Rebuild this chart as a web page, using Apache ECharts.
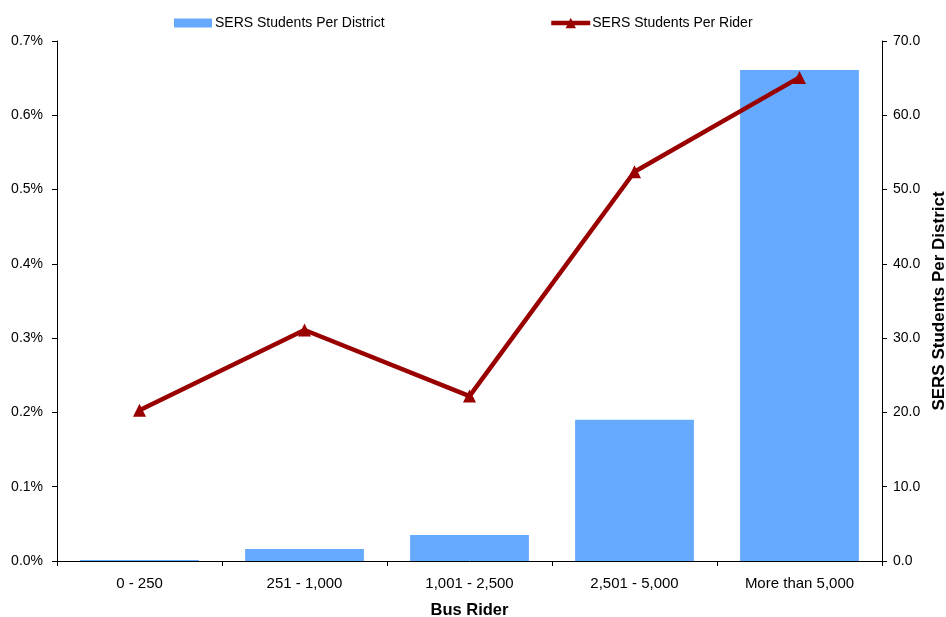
<!DOCTYPE html>
<html>
<head>
<meta charset="utf-8">
<script src="https://cdn.jsdelivr.net/npm/echarts@6/dist/echarts.min.js"></script>
<style>
html,body{margin:0;padding:0;background:#fff;}
#chart{width:946px;height:617px;}
</style>
</head>
<body>
<div id="chart"></div>
<script>
var categories = ['0 - 250', '251 - 1,000', '1,001 - 2,500', '2,501 - 5,000', 'More than 5,000'];
var studentsPerDistrict = [0.15, 1.6, 3.5, 19.0, 66.1];
var studentsPerRiderPct = [0.203, 0.311, 0.222, 0.524, 0.651];
var leftTicks = ['0.0%', '0.1%', '0.2%', '0.3%', '0.4%', '0.5%', '0.6%', '0.7%'];
var rightTicks = ['0.0', '10.0', '20.0', '30.0', '40.0', '50.0', '60.0', '70.0'];

var FONT = '"Liberation Sans", Arial, sans-serif';
var chart = echarts.init(document.getElementById('chart'), null, {renderer: 'canvas'});
chart.setOption({
  backgroundColor: '#ffffff',
  animation: false,
  textStyle: {fontFamily: FONT, color: '#000'},
  legend: [
    {
      data: [{name: 'SERS Students Per District', icon: 'rect'}],
      left: 169, top: 11,
      itemWidth: 38, itemHeight: 9, itemGap: 4,
      textStyle: {fontFamily: FONT, fontSize: 14, color: '#000', padding: [0, 0, 0, -2]}
    },
    {
      data: ['SERS Students Per Rider'],
      left: 544, top: 11,
      itemWidth: 39, itemHeight: 13, itemGap: 4,
      lineStyle: {width: 4.5},
      textStyle: {fontFamily: FONT, fontSize: 14, color: '#000', padding: [0, 0, 0, -3]}
    }
  ],
  grid: {left: 57, right: 64, top: 41, bottom: 56, containLabel: false, outerBoundsMode: 'none'},
  xAxis: {
    type: 'category',
    data: categories,
    position: 'bottom',
    name: 'Bus Rider',
    nameLocation: 'middle',
    nameGap: 41,
    nameTextStyle: {fontFamily: FONT, fontSize: 16.5, fontWeight: 'bold', color: '#000'},
    axisLine: {lineStyle: {color: '#000', width: 1}},
    axisTick: {show: true, length: 5, lineStyle: {color: '#000'}},
    axisLabel: {fontFamily: FONT, fontSize: 15, color: '#000', margin: 15, interval: 0}
  },
  yAxis: [
    {
      type: 'value',
      position: 'left',
      min: 0, max: 0.7, interval: 0.1,
      axisLine: {show: true, lineStyle: {color: '#000', width: 1}},
      axisTick: {show: true, length: 5, lineStyle: {color: '#000'}},
      splitLine: {show: false},
      axisLabel: {
        fontFamily: FONT, fontSize: 14, color: '#000', margin: 14,
        formatter: function (v) { return leftTicks[Math.round(v * 10)]; }
      }
    },
    {
      type: 'value',
      position: 'right',
      min: 0, max: 70, interval: 10,
      name: 'SERS Students Per District',
      nameLocation: 'middle',
      nameGap: 47,
      nameRotate: 90,
      nameTextStyle: {fontFamily: FONT, fontSize: 17, fontWeight: 'bold', color: '#000'},
      axisLine: {show: true, lineStyle: {color: '#000', width: 1}},
      axisTick: {show: true, length: 5, lineStyle: {color: '#000'}},
      splitLine: {show: false},
      axisLabel: {
        fontFamily: FONT, fontSize: 14, color: '#000', margin: 11,
        formatter: function (v) { return rightTicks[Math.round(v / 10)]; }
      }
    }
  ],
  series: [
    {
      name: 'SERS Students Per District',
      type: 'bar',
      yAxisIndex: 1,
      data: studentsPerDistrict,
      barCategoryGap: '28%',
      itemStyle: {color: '#66AAFF'},
      z: 1
    },
    {
      name: 'SERS Students Per Rider',
      type: 'line',
      yAxisIndex: 0,
      data: studentsPerRiderPct,
      symbol: 'triangle',
      symbolSize: 13,
      showAllSymbol: true,
      lineStyle: {color: '#990000', width: 4.5},
      itemStyle: {color: '#990000'},
      z: 3
    }
  ]
});
</script>
</body>
</html>
